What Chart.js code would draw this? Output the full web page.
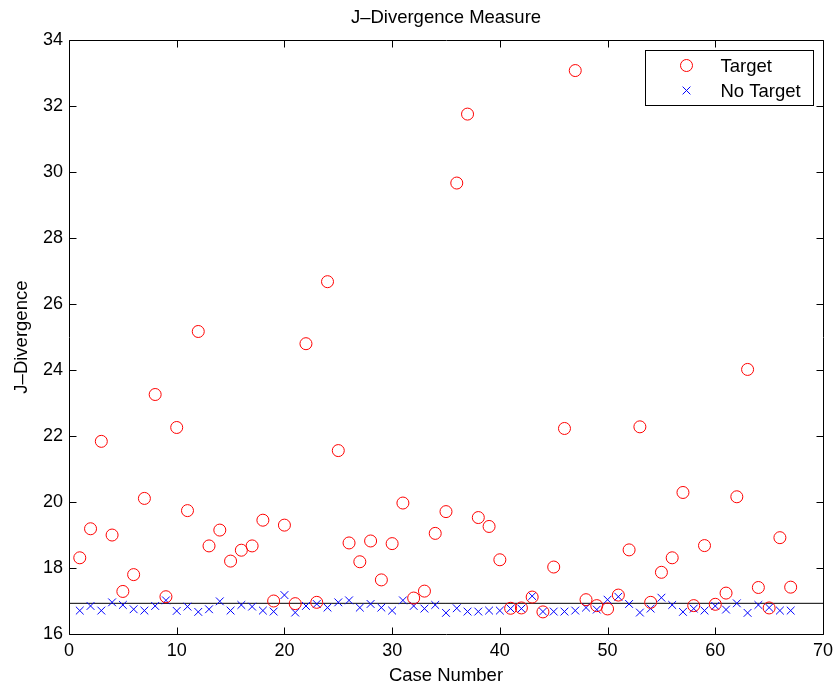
<!DOCTYPE html>
<html>
<head>
<meta charset="utf-8">
<title>J–Divergence Measure</title>
<script src="https://cdn.jsdelivr.net/npm/chart.js@4.4.1/dist/chart.umd.min.js"></script>
<style>
  html, body { margin: 0; padding: 0; background: #fff; }
  #wrap { position: relative; width: 839px; height: 692px; }
</style>
</head>
<body>
<div id="wrap"><canvas id="jdiv"></canvas></div>
<script>
var caseNumbers = [1, 2, 3, 4, 5, 6, 7, 8, 9, 10, 11, 12, 13, 14, 15, 16, 17, 18, 19, 20,
  21, 22, 23, 24, 25, 26, 27, 28, 29, 30, 31, 32, 33, 34, 35, 36, 37, 38, 39, 40,
  41, 42, 43, 44, 45, 46, 47, 48, 49, 50, 51, 52, 53, 54, 55, 56, 57, 58, 59, 60,
  61, 62, 63, 64, 65, 66, 67];

var targetValues = [18.31, 19.19, 21.84, 19.00, 17.29, 17.80, 20.11, 23.26, 17.13, 22.26,
  19.74, 25.17, 18.67, 19.15, 18.21, 18.54, 18.67, 19.45, 17.00, 19.30,
  16.92, 24.80, 16.96, 26.68, 21.56, 18.76, 18.19, 18.82, 17.64, 18.74,
  19.97, 17.09, 17.30, 19.05, 19.71, 29.67, 31.76, 19.53, 19.26, 18.25,
  16.78, 16.79, 17.12, 16.67, 18.03, 22.23, 33.08, 17.04, 16.86, 16.76,
  17.18, 18.55, 22.28, 16.96, 17.87, 18.31, 20.29, 16.86, 18.68, 16.90,
  17.24, 20.16, 24.02, 17.41, 16.79, 18.92, 17.42];

var noTargetValues = [16.71, 16.85, 16.71, 16.96, 16.88, 16.75, 16.71, 16.85, 17.02, 16.70,
  16.83, 16.67, 16.75, 16.99, 16.71, 16.88, 16.83, 16.71, 16.68, 17.18,
  16.65, 16.85, 16.91, 16.80, 16.96, 17.02, 16.80, 16.91, 16.80, 16.71,
  17.02, 16.85, 16.77, 16.88, 16.64, 16.78, 16.68, 16.68, 16.71, 16.71,
  16.77, 16.77, 17.15, 16.68, 16.68, 16.68, 16.71, 16.80, 16.74, 17.04,
  17.13, 16.91, 16.65, 16.77, 17.10, 16.88, 16.67, 16.77, 16.71, 16.85,
  16.74, 16.93, 16.64, 16.88, 16.80, 16.71, 16.71];

var threshold = 16.93;
var xRange = [0, 70];
var yRange = [16, 34];

var FONT = 'Liberation Sans, Arial, Helvetica, sans-serif';

function toPoints(xs, ys) {
  return xs.map(function (x, i) { return { x: x, y: ys[i] }; });
}

// matlab-ish box with inward ticks on all four sides
var boxPlugin = {
  id: 'matlabBox',
  afterDatasetsDraw: function (chart) {
    var ctx = chart.ctx;
    var a = chart.chartArea;
    var xs = chart.scales.x, ys = chart.scales.y;
    var L = Math.round(a.left) + 0.5, R = Math.round(a.right) + 0.5;
    var T = Math.round(a.top) + 0.5, B = Math.round(a.bottom) + 0.5;
    var len = 7;
    ctx.save();
    ctx.strokeStyle = '#000';
    ctx.lineWidth = 1;
    ctx.beginPath();
    ctx.rect(L, T, R - L, B - T);
    xs.ticks.forEach(function (t) {
      var px = Math.round(xs.getPixelForValue(t.value)) + 0.5;
      ctx.moveTo(px, B); ctx.lineTo(px, B - len);
      ctx.moveTo(px, T); ctx.lineTo(px, T + len);
    });
    ys.ticks.forEach(function (t) {
      var py = Math.round(ys.getPixelForValue(t.value)) + 0.5;
      ctx.moveTo(L, py); ctx.lineTo(L + len, py);
      ctx.moveTo(R, py); ctx.lineTo(R - len, py);
    });
    ctx.stroke();
    ctx.restore();
  },
  afterDraw: function (chart) {
    // legend box in the top right corner of the axes
    var ctx = chart.ctx;
    var a = chart.chartArea;
    var sets = chart.data.datasets.filter(function (d) { return d.inLegend; });
    var bx = Math.round(a.right) - 177.5, by = Math.round(a.top) + 10.5;
    var bw = 168, bh = 55;
    ctx.save();
    ctx.fillStyle = '#fff';
    ctx.fillRect(bx, by, bw, bh);
    ctx.strokeStyle = '#000';
    ctx.lineWidth = 1;
    ctx.strokeRect(bx, by, bw, bh);
    ctx.font = '18.5px ' + FONT;
    ctx.textBaseline = 'middle';
    ctx.fillStyle = '#000';
    sets.forEach(function (d, i) {
      var cy = by + 15 + i * 25;
      var mx = bx + 41;
      ctx.strokeStyle = d.borderColor;
      ctx.beginPath();
      if (d.pointStyle === 'circle') {
        ctx.arc(mx, cy, d.pointRadius, 0, Math.PI * 2);
      } else {
        var h = d.pointRadius * Math.SQRT1_2;
        ctx.moveTo(mx - h, cy - h); ctx.lineTo(mx + h, cy + h);
        ctx.moveTo(mx - h, cy + h); ctx.lineTo(mx + h, cy - h);
      }
      ctx.stroke();
      ctx.fillText(d.label, bx + 75, cy + 1);
    });
    ctx.restore();
  }
};

new Chart(document.getElementById('jdiv'), {
  type: 'scatter',
  data: {
    datasets: [
      {
        label: 'Target',
        inLegend: true,
        data: toPoints(caseNumbers, targetValues),
        pointStyle: 'circle',
        pointRadius: 6,
        pointBorderWidth: 1,
        borderColor: '#ff0000',
        backgroundColor: 'rgba(0,0,0,0)',
        borderWidth: 1
      },
      {
        label: 'No Target',
        inLegend: true,
        data: toPoints(caseNumbers, noTargetValues),
        pointStyle: 'crossRot',
        pointRadius: 5.5,
        pointBorderWidth: 1,
        borderColor: '#0000ff',
        backgroundColor: '#0000ff',
        borderWidth: 1
      },
      {
        label: 'threshold',
        type: 'line',
        data: [{ x: xRange[0], y: threshold }, { x: xRange[1], y: threshold }],
        borderColor: '#000',
        borderWidth: 1,
        pointRadius: 0,
        fill: false
      }
    ]
  },
  options: {
    responsive: true,
    maintainAspectRatio: false,
    animation: false,
    layout: { padding: { left: 0, right: 16, top: 0, bottom: 0 } },
    plugins: {
      legend: { display: false },
      tooltip: { enabled: false },
      title: {
        display: true,
        text: 'J–Divergence Measure',
        fullSize: false,
        color: '#000',
        font: { family: FONT, size: 18.5, weight: 'normal' },
        padding: { top: 7, bottom: 11 }
      }
    },
    scales: {
      x: {
        type: 'linear',
        min: xRange[0],
        max: xRange[1],
        grid: { display: false, drawTicks: false },
        border: { display: false },
        ticks: { stepSize: 10, color: '#000', padding: 6, font: { family: FONT, size: 18 } },
        title: {
          display: true,
          text: 'Case Number',
          color: '#000',
          font: { family: FONT, size: 18.5 },
          padding: { top: 0, bottom: 5 }
        },
        afterFit: function (s) { s.height = 58; }
      },
      y: {
        type: 'linear',
        min: yRange[0],
        max: yRange[1],
        grid: { display: false, drawTicks: false },
        border: { display: false },
        ticks: { stepSize: 2, color: '#000', padding: 6, font: { family: FONT, size: 18 } },
        title: {
          display: true,
          text: 'J–Divergence',
          color: '#000',
          font: { family: FONT, size: 18.5 },
          padding: { top: 11, bottom: 0 }
        },
        afterFit: function (s) { s.width = 69; }
      }
    }
  },
  plugins: [boxPlugin]
});
</script>
</body>
</html>
